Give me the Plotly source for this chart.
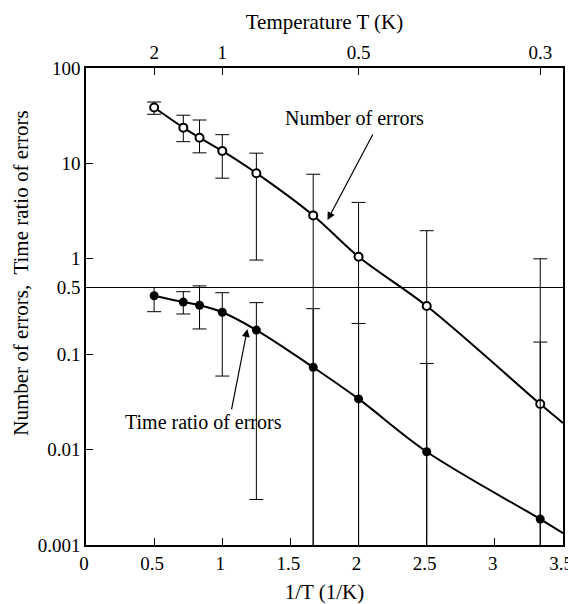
import plotly.graph_objects as go

# 1/T positions of the measurements (1/K)
inv_t = [0.5, 0.714, 0.833, 1.0, 1.25, 1.667, 2.0, 2.5, 3.333]

# number of errors (open circles) with error-bar ends
n_errors = [38.5, 23.7, 18.6, 13.5, 7.9, 2.85, 1.05, 0.32, 0.030]
n_hi = [44, 32, 28.5, 20, 12.8, 7.7, 3.9, 1.97, 1.0]
n_lo = [32.7, 16.9, 12.9, 7.0, 0.97, 1e-4, 1e-4, 1e-4, 1e-4]

# time ratio of errors (filled circles) with error-bar ends
t_ratio = [0.41, 0.352, 0.326, 0.275, 0.179, 0.073, 0.034, 0.0095, 0.00187]
t_hi = [0.50, 0.452, 0.52, 0.441, 0.347, 0.30, 0.21, 0.080, 0.134]
t_lo = [0.279, 0.264, 0.184, 0.059, 0.003, 1e-4, 1e-4, 1e-4, 1e-4]

# fitted curves
fit_x = [0.5, 0.714, 0.833, 1.0, 1.25, 1.667, 2.0, 2.5, 3.333, 3.5]
n_fit = [38.5, 23.7, 18.6, 13.5, 7.9, 2.85, 1.05, 0.32, 0.030, 0.019]
t_fit = [0.41, 0.352, 0.326, 0.275, 0.179, 0.073, 0.034, 0.0095, 0.00187, 0.00133]

ref_level = 0.5

x_ticks = [0, 0.5, 1, 1.5, 2, 2.5, 3, 3.5]
y_ticks = [100, 10, 1, 0.5, 0.1, 0.01, 0.001]
y_ticktext = ["100", "10", "1", "0.5", "0.1", "0.01", "0.001"]
temp_ticks = [2, 1, 0.5, 0.3]

FONT = "Liberation Serif"

fig = go.Figure()

fig.add_trace(go.Scatter(x=[x_ticks[0], x_ticks[-1]], y=[ref_level, ref_level], mode="lines",
                         line=dict(color="black", width=1.2), hoverinfo="skip"))

fig.add_trace(go.Scatter(x=fit_x, y=n_fit, mode="lines", line=dict(color="black", width=2, shape="spline")))
fig.add_trace(go.Scatter(x=fit_x, y=t_fit, mode="lines", line=dict(color="black", width=2, shape="spline")))

fig.add_trace(go.Scatter(
    x=inv_t, y=n_errors, mode="markers",
    marker=dict(symbol="circle", size=8, color="white", line=dict(color="black", width=2)),
    error_y=dict(type="data", symmetric=False,
                 array=[h - v for h, v in zip(n_hi, n_errors)],
                 arrayminus=[v - l for v, l in zip(n_errors, n_lo)],
                 color="black", thickness=1, width=7),
))
fig.add_trace(go.Scatter(
    x=inv_t, y=t_ratio, mode="markers",
    marker=dict(symbol="circle", size=9, color="black"),
    error_y=dict(type="data", symmetric=False,
                 array=[h - v for h, v in zip(t_hi, t_ratio)],
                 arrayminus=[v - l for v, l in zip(t_ratio, t_lo)],
                 color="black", thickness=1, width=7),
))

# invisible trace so the top temperature axis is drawn
fig.add_trace(go.Scatter(x=[1 / t for t in temp_ticks], y=[1, 1], xaxis="x2", mode="markers",
                         marker=dict(opacity=0), hoverinfo="skip"))

axis_common = dict(showgrid=False, zeroline=False, showline=True, linecolor="black", linewidth=1.5,
                   ticks="inside", ticklen=7, tickcolor="black", tickwidth=1.2, automargin=False,
                   tickfont=dict(family=FONT, size=19, color="black"))

# the page body keeps its default 8px margin, so the figure is 8px smaller than the window
fig.update_layout(
    width=568, height=596,
    margin=dict(l=78, r=13, t=60, b=59),
    paper_bgcolor="white", plot_bgcolor="white",
    showlegend=False,
    font=dict(family=FONT, size=20, color="black"),
    xaxis=dict(range=[0, 3.5], tickvals=x_ticks, mirror=True, ticklabelshift=-2,
               title=dict(text="1/T (1/K)", font=dict(family=FONT, size=21), standoff=14),
               **axis_common),
    xaxis2=dict(range=[0, 3.5], overlaying="x", side="top", anchor="y",
                tickvals=[1 / t for t in temp_ticks], ticktext=[str(t) for t in temp_ticks],
                title=dict(text="Temperature T (K)", font=dict(family=FONT, size=21), standoff=6),
                **axis_common),
    yaxis=dict(type="log", range=[-3, 2], tickvals=y_ticks, ticktext=y_ticktext, mirror=True,
               **axis_common),
)

# y-axis title placed as text so it can sit where the original has it
fig.add_annotation(x=-0.137, y=0.57, xref="paper", yref="paper", textangle=-90,
                   xanchor="center", yanchor="middle",
                   text="Number of errors,  Time ratio of errors", showarrow=False,
                   font=dict(family=FONT, size=21, color="black"))

# labels with arrows
fig.add_annotation(x=1.97, y=1.476, text="Number of errors", showarrow=False,
                   font=dict(family=FONT, size=20, color="black"))
fig.add_annotation(x=1.772, y=0.407, ax=2.11, ay=1.319, axref="x", ayref="y", text="",
                   showarrow=True, arrowhead=2, arrowsize=1.3, arrowwidth=1.2, arrowcolor="black")
fig.add_annotation(x=0.86, y=-1.711, text="Time ratio of errors", showarrow=False,
                   font=dict(family=FONT, size=20, color="black"))
fig.add_annotation(x=1.184, y=-0.736, ax=1.066, ay=-1.595, axref="x", ayref="y", text="",
                   showarrow=True, arrowhead=2, arrowsize=1.3, arrowwidth=1.2, arrowcolor="black")

fig.write_html("out.html")
